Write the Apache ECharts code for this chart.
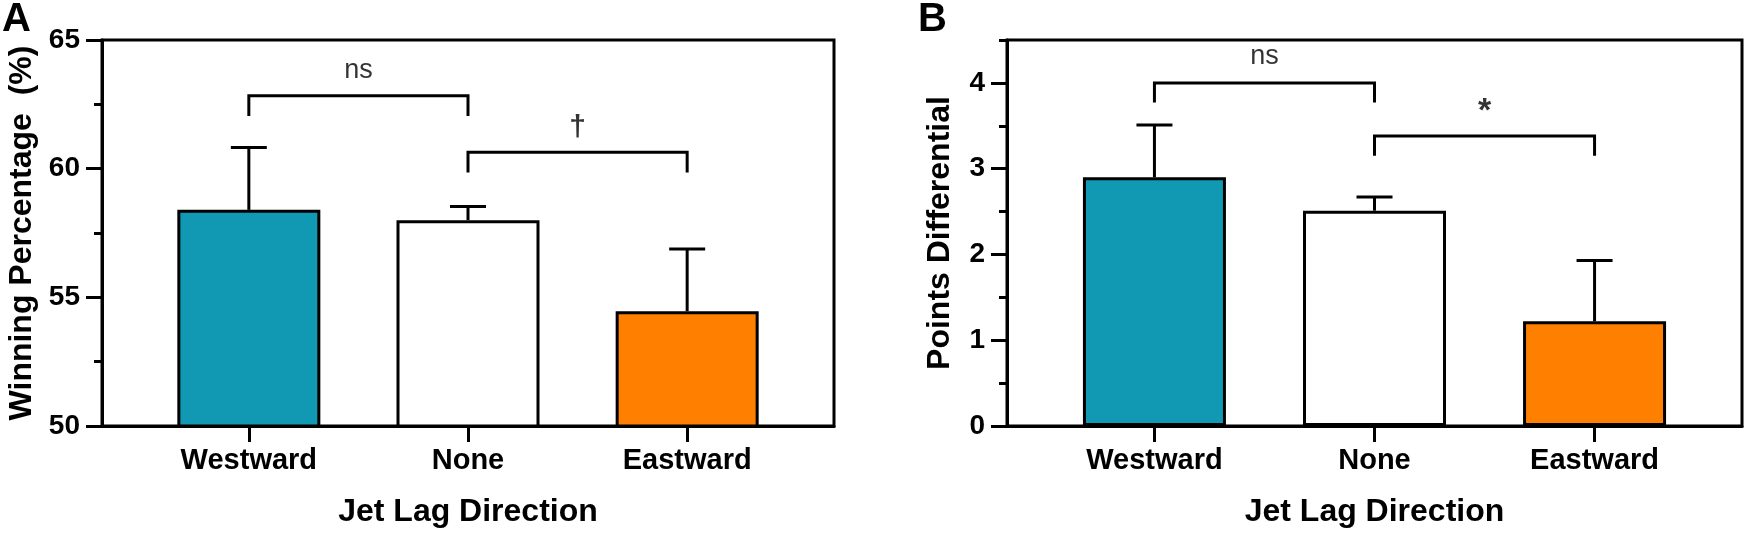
<!DOCTYPE html>
<html><head><meta charset="utf-8">
<script src="https://cdn.jsdelivr.net/npm/echarts@6/dist/echarts.min.js"></script>
<style>html,body{margin:0;padding:0;background:#fff}#c{width:1750px;height:536px}</style>
</head><body><div id="c"></div>
<script>
// ---- data ----
const categories = ['Westward', 'None', 'Eastward'];
const catPos = [0, 1, 2];
const winPct = [58.4, 58.0, 54.46];
const winPctErr = [2.42, 0.53, 2.42];
const pointsDiff = [2.90, 2.51, 1.22];
const pointsDiffErr = [0.61, 0.16, 0.71];
const yTicksA = [50, 55, 60, 65];
const yTicksB = [0, 1, 2, 3, 4];
const minorTicksB = [0.5, 1.5, 2.5, 3.5, 4.5];
// brackets: [fromIdx, toIdx, lineY, legBottomY, label, labelY]
const bracketsA = [[0, 1, 62.83, 62.05, 'ns', 63.8], [1, 2, 60.64, 59.85, '\u2020', 61.6]];
const bracketsB = [[0, 1, 4.0, 3.77, 'ns', 4.31], [1, 2, 3.38, 3.15, '*', 3.67]];

// ---- style ----
const FONT = '"Liberation Sans", Arial, sans-serif';
const barColors = ['#1199b4', '#ffffff', '#ff8000'];
const labelStyles = {
  'ns': {fontSize: 27, fontWeight: 'normal'},
  '\u2020': {fontSize: 30, fontWeight: 'bold'},
  '*': {fontSize: 34, fontWeight: 'bold'}
};

const chart = echarts.init(document.getElementById('c'), null, {renderer: 'canvas'});

function xAxisDef(gi) {
  return {
    gridIndex: gi, type: 'value', min: -0.67, max: 2.67,
    axisLine: {show: true, onZero: false, lineStyle: {color: '#000', width: 3}},
    axisTick: {show: true, customValues: catPos, length: 16, lineStyle: {color: '#000', width: 3}},
    axisLabel: {show: true, customValues: catPos, margin: 20, color: '#000', fontFamily: FONT,
      fontSize: 29, fontWeight: 'bold', formatter: v => categories[Math.round(v)]},
    splitLine: {show: false},
    name: 'Jet Lag Direction', nameLocation: 'middle', nameGap: 70,
    nameTextStyle: {color: '#000', fontFamily: FONT, fontSize: 32, fontWeight: 'bold'}
  };
}

function series(panel, xi, yi, vals, errs, brackets) {
  const out = [];
  out.push({
    type: 'bar', xAxisIndex: xi, yAxisIndex: yi, barWidth: 143, z: 2,
    data: catPos.map((p, k) => ({value: [p, vals[k]], itemStyle: {color: barColors[k]}})),
    itemStyle: {borderColor: '#000', borderWidth: 3}
  });
  out.push({
    type: 'custom', xAxisIndex: xi, yAxisIndex: yi, z: 3,
    data: catPos.map((p, k) => [p, vals[k], errs[k]]),
    renderItem: (params, api) => {
      const x = api.value(0), v = api.value(1), e = api.value(2);
      const p0 = api.coord([x, v]);
      const p1 = api.coord([x, v + e]);
      return {type: 'group', children: [
        {type: 'line', shape: {x1: p0[0], y1: p0[1], x2: p1[0], y2: p1[1]}, style: {stroke: '#000', lineWidth: 3}},
        {type: 'line', shape: {x1: p1[0] - 18, y1: p1[1], x2: p1[0] + 18, y2: p1[1]}, style: {stroke: '#000', lineWidth: 3}}
      ]};
    }
  });
  brackets.forEach(b => {
    out.push({
      type: 'line', xAxisIndex: xi, yAxisIndex: yi, symbol: 'none', z: 4,
      lineStyle: {color: '#000', width: 3, cap: 'butt', join: 'miter'},
      data: [[catPos[b[0]], b[3]], [catPos[b[0]], b[2]], [catPos[b[1]], b[2]], [catPos[b[1]], b[3]]]
    });
    const ls = labelStyles[b[4]];
    out.push({
      type: 'scatter', xAxisIndex: xi, yAxisIndex: yi, symbolSize: 1, z: 5,
      itemStyle: {color: 'rgba(0,0,0,0)'},
      data: [[(catPos[b[0]] + catPos[b[1]]) / 2, b[5]]],
      label: {show: true, position: 'inside', formatter: b[4], color: '#000', fontFamily: FONT,
        fontSize: ls.fontSize, fontWeight: ls.fontWeight}
    });
  });
  return out;
}

const tickLabel = {color: '#000', fontFamily: FONT, fontSize: 28, fontWeight: 'bold', margin: 22};

const option = {
  animation: false,
  backgroundColor: '#fff',
  title: [
    {text: 'A', left: 2, top: 0, padding: 0, textStyle: {fontFamily: FONT, fontSize: 40, fontWeight: 'bold', color: '#000'}},
    {text: 'B', left: 918, top: 0, padding: 0, textStyle: {fontFamily: FONT, fontSize: 40, fontWeight: 'bold', color: '#000'}}
  ],
  grid: [
    {left: 102, top: 40, width: 732, height: 386, show: true, borderColor: '#000', borderWidth: 3, backgroundColor: 'transparent'},
    {left: 1007, top: 40, width: 735, height: 386, show: true, borderColor: '#000', borderWidth: 3, backgroundColor: 'transparent'}
  ],
  xAxis: [xAxisDef(0), xAxisDef(1)],
  yAxis: [
    {gridIndex: 0, type: 'value', min: 50, max: 65, interval: 5,
      axisLine: {show: true, onZero: false, lineStyle: {color: '#000', width: 3}},
      axisTick: {show: true, length: 16, lineStyle: {color: '#000', width: 3}},
      minorTick: {show: true, splitNumber: 2, length: 8, lineStyle: {color: '#000', width: 3}},
      axisLabel: Object.assign({customValues: yTicksA}, tickLabel),
      splitLine: {show: false}, minorSplitLine: {show: false},
      name: 'Winning Percentage  (%)', nameLocation: 'middle', nameGap: 64,
      nameTextStyle: {color: '#000', fontFamily: FONT, fontSize: 32, fontWeight: 'bold'}},
    {gridIndex: 1, type: 'value', min: 0, max: 4.5,
      axisLine: {show: true, onZero: false, lineStyle: {color: '#000', width: 3}},
      axisTick: {show: true, customValues: yTicksB, length: 16, lineStyle: {color: '#000', width: 3}},
      axisLabel: Object.assign({customValues: yTicksB}, tickLabel),
      splitLine: {show: false},
      name: 'Points Differential', nameLocation: 'middle', nameGap: 51,
      nameTextStyle: {color: '#000', fontFamily: FONT, fontSize: 32, fontWeight: 'bold'}},
    {gridIndex: 1, type: 'value', min: 0, max: 4.5, position: 'left', offset: 0,
      axisLine: {show: false, onZero: false},
      axisTick: {show: true, customValues: minorTicksB, length: 8, lineStyle: {color: '#000', width: 3}},
      axisLabel: {show: false},
      splitLine: {show: false}}
  ],
  series: [].concat(
    series('A', 0, 0, winPct, winPctErr, bracketsA),
    series('B', 1, 1, pointsDiff, pointsDiffErr, bracketsB)
  )
};
chart.setOption(option);
</script>
</body></html>
